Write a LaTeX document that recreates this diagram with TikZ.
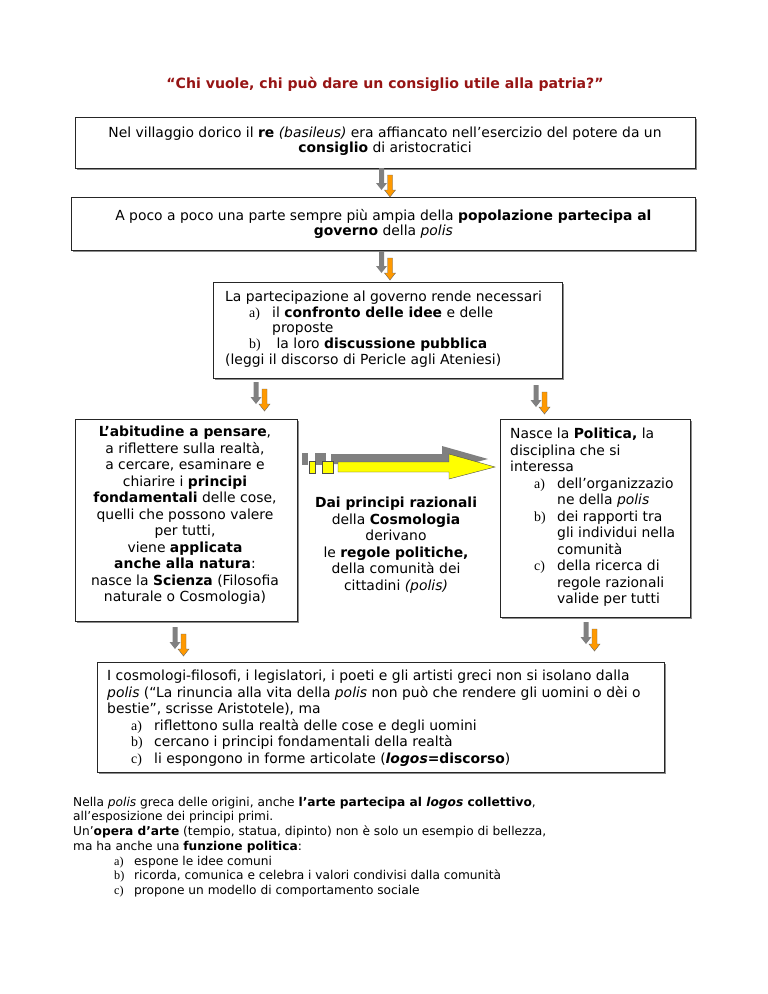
\documentclass[tikz,border=0pt]{standalone}
\usepackage{fontspec}
\setmainfont{DejaVu Sans}
\newfontfamily\mkfont{Liberation Serif}
\usetikzlibrary{shadows}
\definecolor{titred}{RGB}{150,20,20}
\definecolor{arrorange}{RGB}{255,153,0}
\definecolor{arrgray}{RGB}{128,128,128}
\definecolor{arryellow}{RGB}{255,255,0}
\newcommand\itmA[1]{\hspace*{24pt}\makebox[23pt][l]{\mkfont #1}}
\newcommand\cntA{\hspace*{47pt}}
\newcommand\itmB[1]{\hspace*{41pt}\makebox[20pt][l]{\mkfont #1}}
\begin{document}
\begin{tikzpicture}[x=1pt,y=-1pt,
  box/.style={draw=black!85, line width=0.7pt, fill=white, rectangle, inner sep=0pt, anchor=north west,
    drop shadow={shadow xshift=1.5pt, shadow yshift=-1.5pt, fill=black!45, opacity=1}},
  txt/.style={font=\fontsize{13.9}{16.5}\selectfont, inner sep=0pt},
  downarr/.pic={
    \fill[arrgray] (-2.5,0) -- (2.5,0) -- (2.5,15) -- (5.5,15) -- (0,22) -- (-5.5,15) -- (-2.5,15) -- cycle;
    \filldraw[fill=arrorange, draw=black!60, line width=0.4pt] (6,7) -- (11,7) -- (11,22) -- (14,22) -- (8.5,29) -- (3,22) -- (6,22) -- cycle;
  }]
\useasboundingbox (0,0) rectangle (768,994);

% title
\node[font=\fontsize{14.1}{17}\selectfont\bfseries, text=titred, inner sep=0pt] (title) at (385,84)
  {“Chi vuole, chi può dare un consiglio utile alla patria?”};

% box 1
\node[box, minimum width=620pt, minimum height=51pt] (b1) at (75,117) {};
\node[txt, font=\fontsize{13.9}{15.5}\selectfont, align=center] (t1) at (385,141)
  {Nel villaggio dorico il \textbf{re} \textit{(basileus)} era affiancato nell’esercizio del potere da un\\
   \textbf{consiglio} di aristocratici};

% box 2
\node[box, minimum width=624pt, minimum height=53pt] (b2) at (71,197) {};
\node[txt, font=\fontsize{13.9}{15.5}\selectfont, align=center] (t2) at (b2.center)
  {A poco a poco una parte sempre più ampia della \textbf{popolazione partecipa al}\\
   \textbf{governo} della \textit{polis}};

% box 3
\node[box, minimum width=349pt, minimum height=96pt] (b3) at (213,282) {};
\node[txt, font=\fontsize{13.9}{15.6}\selectfont, align=left, anchor=west] (t3) at (225,329)
  {La partecipazione al governo rende necessari\\
   \itmA{a)}il \textbf{confronto delle idee} e delle\\
   \cntA proposte\\
   \itmA{b)} la loro \textbf{discussione pubblica}\\
   (leggi il discorso di Pericle agli Ateniesi)};

% left box
\node[box, minimum width=222pt, minimum height=202pt] (bl) at (75,419) {};
\node[txt, align=center] (tl) at (185,515.5)
  {\textbf{L’abitudine a pensare},\\
   a riflettere sulla realtà,\\
   a cercare, esaminare e\\
   chiarire i \textbf{principi}\\
   \textbf{fondamentali} delle cose,\\
   quelli che possono valere\\
   per tutti,\\
   viene \textbf{applicata}\\
   \textbf{anche alla natura}:\\
   nasce la \textbf{Scienza} (Filosofia\\
   naturale o Cosmologia)};

% right box
\node[box, minimum width=190pt, minimum height=198pt] (br) at (500,419) {};
\node[txt, align=left, anchor=west] (tr) at (510,517.3)
  {Nasce la \textbf{Politica,} la\\
   disciplina che si\\
   interessa\\
   \itmA{a)}dell’organizzazio\\
   \cntA ne della \textit{polis}\\
   \itmA{b)}dei rapporti tra\\
   \cntA gli individui nella\\
   \cntA comunità\\
   \itmA{c)}della ricerca di\\
   \cntA regole razionali\\
   \cntA valide per tutti};

% middle text
\node[txt, align=center] (tm) at (396,545)
  {\textbf{Dai principi razionali}\\
   della \textbf{Cosmologia}\\
   derivano\\
   le \textbf{regole politiche,}\\
   della comunità dei\\
   cittadini \textit{(polis)}};

% middle arrow (shadow then yellow)
\begin{scope}[shift={(-7,-8)}]
  \fill[arrgray] (309,461) rectangle (315,473);
  \fill[arrgray] (322,461) rectangle (333,473);
  \fill[arrgray] (338,462) -- (449,462) -- (449,454) -- (495,467) -- (449,479) -- (449,472) -- (338,472) -- cycle;
\end{scope}
\filldraw[fill=arryellow, draw=black!70, line width=0.4pt] (309,461) rectangle (315,473);
\filldraw[fill=arryellow, draw=black!70, line width=0.4pt] (322,461) rectangle (333,473);
\filldraw[fill=arryellow, draw=black!70, line width=0.4pt] (338,462) -- (449,462) -- (449,454) -- (495,467) -- (449,479) -- (449,472) -- (338,472) -- cycle;

% bottom box
\node[box, minimum width=567pt, minimum height=110pt] (bb) at (97,662) {};
\node[txt, align=left, anchor=west] (tb) at (107,718)
  {I cosmologi-filosofi, i legislatori, i poeti e gli artisti greci non si isolano dalla\\
   \textit{polis} (“La rinuncia alla vita della \textit{polis} non può che rendere gli uomini o dèi o\\
   bestie”, scrisse Aristotele), ma\\
   \itmA{a)}riflettono sulla realtà delle cose e degli uomini\\
   \itmA{b)}cercano i principi fondamentali della realtà\\
   \itmA{c)}li espongono in forme articolate (\textbf{\textit{logos}=discorso})};

% down arrows
\pic (a1) at (381.5,168) {downarr};
\pic (a2) at (381.5,251) {downarr};
\pic (a3) at (256,382) {downarr};
\pic (a4) at (536,385) {downarr};
\pic (a5) at (175,627) {downarr};
\pic (a6) at (586,622) {downarr};

% free text
\node[font=\fontsize{12.2}{14.7}\selectfont, inner sep=0pt, align=left, anchor=west] (tf) at (73,847)
  {Nella \textit{polis} greca delle origini, anche \textbf{l’arte partecipa al \textit{logos} collettivo},\\
   all’esposizione dei principi primi.\\
   Un’\textbf{opera d’arte} (tempio, statua, dipinto) non è solo un esempio di bellezza,\\
   ma ha anche una \textbf{funzione politica}:\\
   \itmB{a)}espone le idee comuni\\
   \itmB{b)}ricorda, comunica e celebra i valori condivisi dalla comunità\\
   \itmB{c)}propone un modello di comportamento sociale};
\end{tikzpicture}
\end{document}
